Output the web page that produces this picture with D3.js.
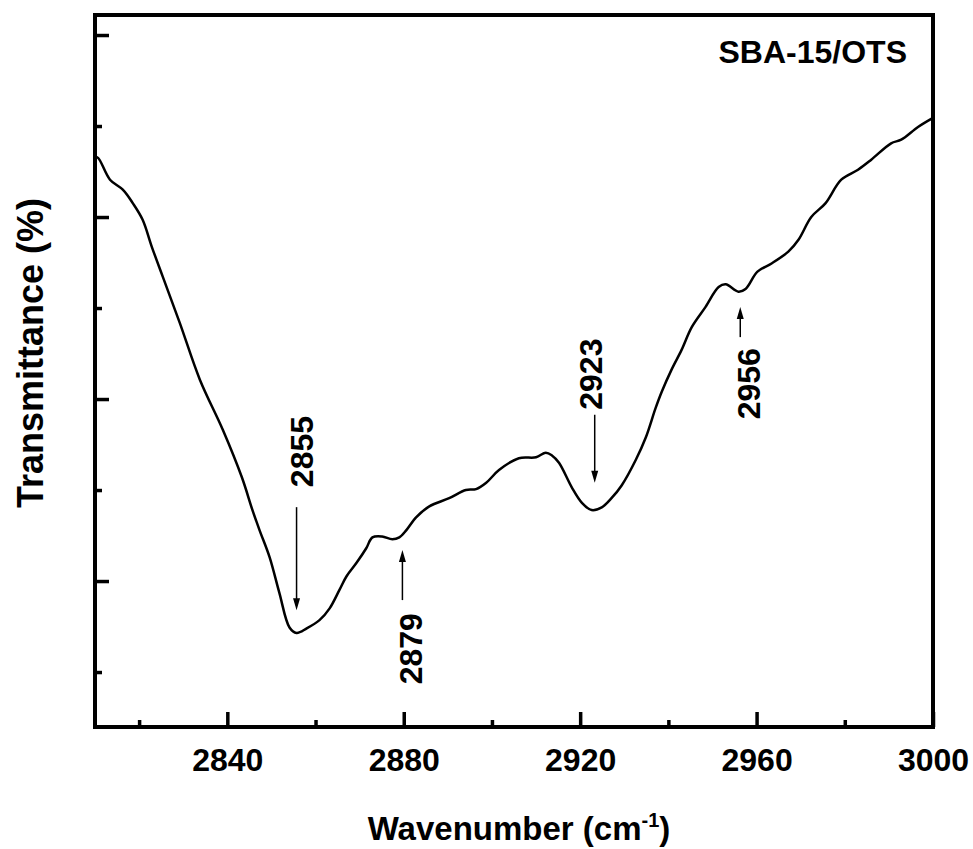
<!DOCTYPE html>
<html>
<head>
<meta charset="utf-8">
<script src="https://cdn.jsdelivr.net/npm/d3@7"></script>
<style>
  body { margin: 0; background: #fff; }
  svg text { font-family: "Liberation Sans", Arial, sans-serif; font-weight: bold; fill: #000; }
</style>
</head>
<body>
<div id="chart"></div>
<script>
// FTIR spectrum, SBA-15/OTS
var wavenumber = [2810.0, 2810.7, 2813.4, 2816.3, 2818.6, 2820.8, 2822.9, 2825.4, 2829.2, 2833.8,
    2839.0, 2843.3, 2845.7, 2847.3, 2849.6, 2851.8, 2854.1, 2855.7, 2858.0, 2860.9,
    2863.2, 2865.4, 2867.0, 2869.3, 2871.5, 2872.9, 2875.1, 2877.4, 2879.0, 2880.6,
    2882.8, 2885.8, 2890.3, 2894.1, 2896.4, 2898.7, 2901.6, 2906.1, 2910.0, 2912.2,
    2913.6, 2915.2, 2918.1, 2920.4, 2922.6, 2924.9, 2927.1, 2929.4, 2932.6, 2934.9,
    2937.1, 2938.5, 2940.7, 2943.0, 2945.3, 2948.4, 2951.4, 2953.0, 2955.9, 2957.5,
    2960.2, 2963.4, 2967.2, 2969.5, 2972.4, 2975.6, 2979.2, 2983.0, 2986.0, 2990.5,
    2992.8, 2996.6, 3000.0];
var transmittance = [66.6, 66.5, 64.1, 63.0, 61.5, 59.7, 56.7, 53.4, 48.4, 42.1,
    36.6, 31.4, 27.8, 25.6, 22.6, 18.7, 14.9, 14.3, 14.8, 15.7,
    17.0, 19.0, 20.5, 22.0, 23.6, 24.8, 24.9, 24.6, 24.8, 25.6,
    27.0, 28.2, 29.1, 30.0, 30.1, 30.8, 32.2, 33.5, 33.6, 34.1,
    33.8, 33.0, 30.3, 28.6, 27.8, 28.1, 29.1, 30.5, 33.3, 35.8,
    39.0, 40.8, 43.2, 45.4, 47.9, 50.1, 52.3, 52.6, 51.8, 52.1,
    54.0, 54.9, 56.2, 57.5, 60.0, 61.5, 64.1, 65.2, 66.3, 68.1,
    68.5, 69.9, 70.9];

var xMajor = [2840, 2880, 2920, 2960, 3000];
var xMinor = [2820, 2860, 2900, 2940, 2980];
var yMajor = [20, 40, 60, 80];
var yMinor = [10, 30, 50, 70];

// peak annotations
var peakLabels = ['2855', '2879', '2923', '2956'];
var peakPos = [2855.7, 2879.7, 2923.3, 2956.3];
var peakTip = [16.8, 23.4, 30.8, 50.1];
var peakDir = ['down', 'up', 'down', 'up'];

var width = 973, height = 849;
var margin = {left: 95, right: 40, top: 15, bottom: 122};
var x0 = margin.left, x1 = width - margin.right,
    y0 = margin.top, y1 = height - margin.bottom;

var svg = d3.select('#chart').append('svg')
    .attr('width', width).attr('height', height);

var x = d3.scaleLinear().domain([2810, 3000]).range([x0, x1]);
var y = d3.scaleLinear().domain([3.96, 82.2]).range([y1, y0]);

// ticks (inward)
var gx = svg.append('g').attr('transform', 'translate(0,' + y1 + ')');
gx.call(d3.axisBottom(x).tickValues(xMajor).tickSize(-15).tickPadding(21).tickFormat(d3.format('d')));
gx.append('g').call(d3.axisBottom(x).tickValues(xMinor).tickSize(-7).tickFormat(''));
gx.selectAll('text').style('font-size', '32px');

var gy = svg.append('g').attr('transform', 'translate(' + x0 + ',0)');
gy.call(d3.axisLeft(y).tickValues(yMajor).tickSize(-14).tickFormat(''));
gy.append('g').call(d3.axisLeft(y).tickValues(yMinor).tickSize(-7).tickFormat(''));

svg.selectAll('.domain').remove();
svg.selectAll('.tick line').attr('stroke', '#000').attr('stroke-width', 3.5);

// frame
svg.append('rect')
    .attr('x', x0).attr('y', y0)
    .attr('width', x1 - x0).attr('height', y1 - y0)
    .attr('fill', 'none').attr('stroke', '#000').attr('stroke-width', 4);

// spectrum
var line = d3.line()
    .x(function(d, i) { return x(wavenumber[i]); })
    .y(function(d) { return y(d); })
    .curve(d3.curveCatmullRom.alpha(0.5));
svg.append('path')
    .datum(transmittance)
    .attr('d', line)
    .attr('fill', 'none')
    .attr('stroke', '#000')
    .attr('stroke-width', 2.5);

// arrows + labels
var arrowLen = [103, 50, 68, 30];
var textGap = [20, 13, 5, 11];
var textDx = [5, 8, -4, 8];
peakLabels.forEach(function(lab, i) {
    var ax = x(peakPos[i]), tip = y(peakTip[i]);
    var down = peakDir[i] == 'down';
    var tail = down ? tip - arrowLen[i] : tip + arrowLen[i];
    svg.append('line')
        .attr('x1', ax).attr('x2', ax)
        .attr('y1', tail).attr('y2', down ? tip - 8 : tip + 8)
        .attr('stroke', '#000').attr('stroke-width', 1.5);
    var h = down ? -12 : 12;
    svg.append('path')
        .attr('d', 'M' + ax + ',' + tip + 'L' + (ax - 3.5) + ',' + (tip + h) + 'L' + (ax + 3.5) + ',' + (tip + h) + 'Z')
        .attr('fill', '#000');
    svg.append('text')
        .attr('transform', 'translate(' + (ax + textDx[i]) + ',' + (down ? tail - textGap[i] : tail + textGap[i]) + ') rotate(-90)')
        .attr('dy', '0.36em')
        .attr('text-anchor', down ? 'start' : 'end')
        .style('font-size', '32px')
        .text(lab);
});

// sample name
svg.append('text')
    .attr('x', 907).attr('y', 63)
    .attr('text-anchor', 'end')
    .style('font-size', '32px')
    .text('SBA-15/OTS');

// axis titles
var xt = svg.append('text')
    .attr('x', (x0 + x1) / 2 + 5).attr('y', 840)
    .attr('text-anchor', 'middle')
    .style('font-size', '33px');
xt.append('tspan').text('Wavenumber (cm');
xt.append('tspan').attr('dy', -13).style('font-size', '20px').text('-1');
xt.append('tspan').attr('dy', 13).text(')');

svg.append('text')
    .attr('transform', 'translate(43,' + 353 + ') rotate(-90)')
    .attr('text-anchor', 'middle')
    .style('font-size', '36px')
    .text('Transmittance (%)');
</script>
</body>
</html>
